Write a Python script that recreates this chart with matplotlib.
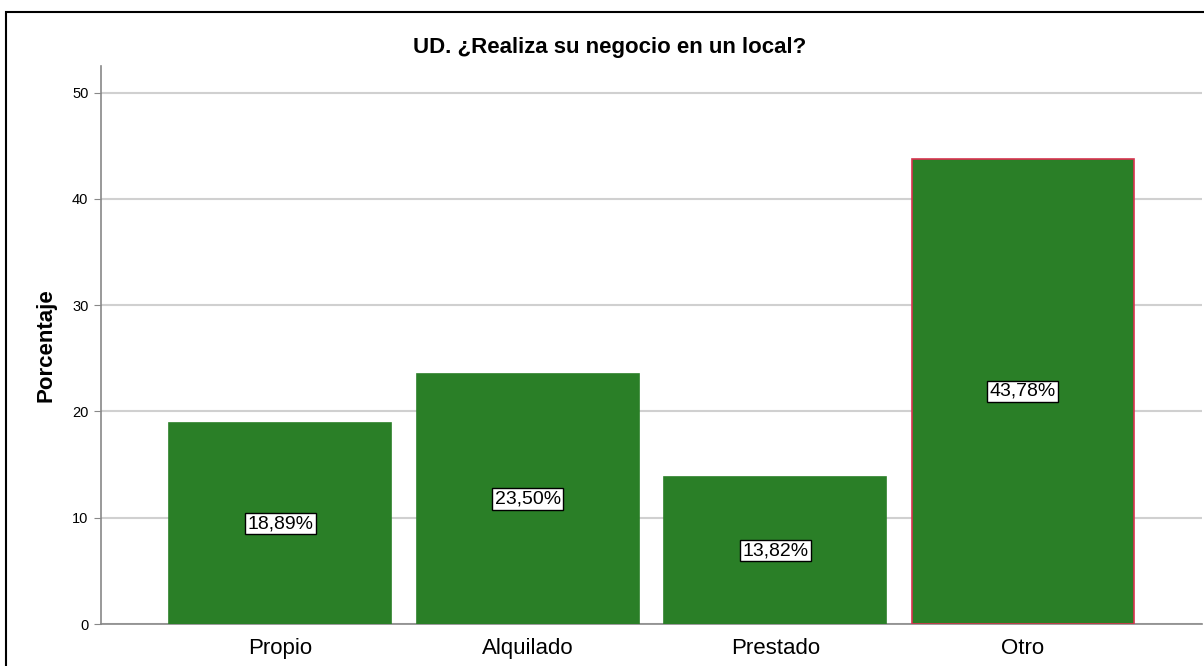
import matplotlib
matplotlib.use("Agg")
import matplotlib.pyplot as plt
from matplotlib.patches import Rectangle

plt.rcParams['font.family'] = ['Liberation Sans', 'DejaVu Sans']

categorias = ["Propio", "Alquilado", "Prestado", "Otro"]
porcentajes = [18.89, 23.50, 13.82, 43.78]
etiquetas = ["18,89%", "23,50%", "13,82%", "43,78%"]
bordes = ["#2a7f27", "#2a7f27", "#2a7f27", "#d7334f"]

verde = "#2a7f27"

fig = plt.figure(figsize=(12.04, 6.66), dpi=100)
ax = fig.add_axes([101/1204, 42/666, 1101/1204, 558/666])

# marco negro alrededor del grafico
fig.patches.append(Rectangle((6/1204, -0.05), 1.1, 1.05 - 12/666,
                             transform=fig.transFigure, fill=False,
                             edgecolor="black", linewidth=1.5))

x = range(len(categorias))
ax.bar(x, porcentajes, width=0.897, color=verde,
       edgecolor=bordes, linewidth=1.2, zorder=3)

for xi, v, lab in zip(x, porcentajes, etiquetas):
    ax.text(xi, v / 2, lab, ha="center", va="center", fontsize=14,
            zorder=4,
            bbox=dict(boxstyle="square,pad=0.12", facecolor="white",
                      edgecolor="black", linewidth=1))

ax.set_xlim(-0.725, 3.725)
ax.set_ylim(0, 52.5)
ax.set_yticks([0, 10, 20, 30, 40, 50])
ax.set_xticks(list(x))
ax.set_xticklabels(categorias, fontsize=16)
ax.tick_params(axis="y", labelsize=10.5, length=5, color="#888888", pad=4)
ax.tick_params(axis="x", length=0, pad=10)
ax.grid(axis="y", color="#d0d0d0", linewidth=1.5, zorder=0)

for s in ["top", "right"]:
    ax.spines[s].set_visible(False)
ax.spines["left"].set_color("#888888")
ax.spines["bottom"].set_color("#888888")
ax.spines["left"].set_linewidth(1.2)
ax.spines["bottom"].set_linewidth(1.2)

ax.set_ylabel("Porcentaje", fontsize=16, fontweight="bold", labelpad=11)
fig.text(610/1204, 1 - 47/666, "UD. ¿Realiza su negocio en un local?",
         ha="center", va="center", fontsize=16, fontweight="bold")

fig.savefig("out.png", dpi=100)
